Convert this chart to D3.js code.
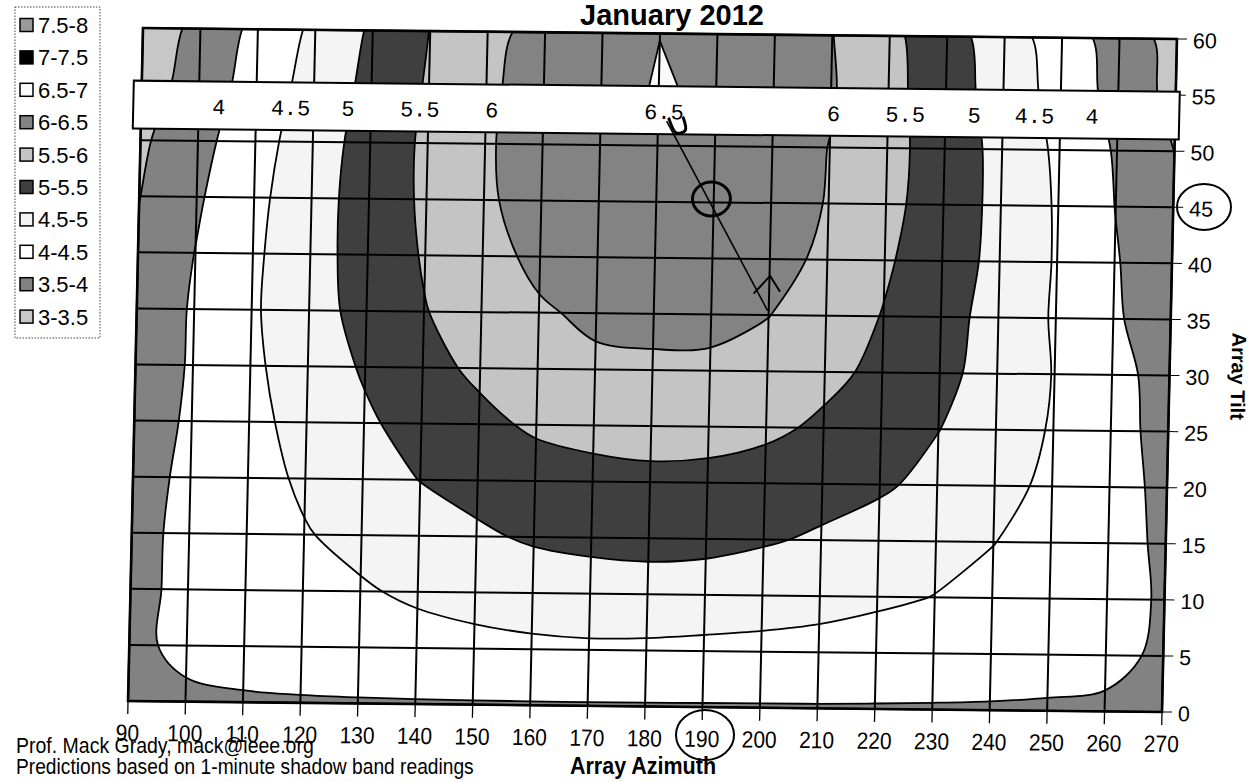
<!DOCTYPE html>
<html>
<head>
<meta charset="utf-8">
<script src="https://cdn.jsdelivr.net/npm/d3@7"></script>
<style>
  html, body { margin: 0; padding: 0; background: #fff; }
  svg { display: block; }
  text { font-family: "Liberation Sans", Arial, sans-serif; fill: #000; }
</style>
</head>
<body>
<svg id="chart" width="1251" height="782"></svg>
<script>
// Array azimuth (columns) and tilt (rows, top to bottom) of the sample grid
const azimuths = [90, 100, 110, 120, 130, 140, 150, 160, 170, 180, 190, 200, 210, 220, 230, 240, 250, 260, 270];
const tilts = [60, 55, 50, 45, 40, 35, 30, 25, 20, 15, 10, 5, 0];

// kWh/m2/day, one row per tilt
const tilt60 = [3.17, 3.65, 4.13, 4.60, 5.07, 5.51, 5.90, 6.13, 6.31, 6.495, 6.34, 6.17, 6.01, 5.61, 5.19, 4.73, 4.25, 3.78, 3.31];
const tilt55 = [3.26, 3.73, 4.21, 4.69, 5.13, 5.55, 5.94, 6.16, 6.35, 6.533, 6.44, 6.23, 6.04, 5.64, 5.23, 4.79, 4.32, 3.83, 3.35];
const tilt50 = [3.42, 3.85, 4.31, 4.77, 5.19, 5.59, 5.96, 6.17, 6.33, 6.44, 6.40, 6.22, 5.99, 5.65, 5.27, 4.86, 4.41, 3.95, 3.495];
const tilt45 = [3.49, 3.94, 4.38, 4.81, 5.21, 5.58, 5.95, 6.14, 6.30, 6.38, 6.36, 6.18, 5.98, 5.63, 5.26, 4.875, 4.45, 3.99, 3.55];
const tilt40 = [3.58, 4.01, 4.42, 4.82, 5.20, 5.54, 5.85, 6.10, 6.21, 6.28, 6.25, 6.12, 5.93, 5.56, 5.23, 4.87, 4.46, 4.04, 3.64];
const tilt35 = [3.66, 4.05, 4.44, 4.81, 5.16, 5.48, 5.71, 5.95, 6.08, 6.10, 6.10, 6.01, 5.75, 5.48, 5.17, 4.83, 4.45, 4.07, 3.70];
const tilt30 = [3.70, 4.05, 4.41, 4.75, 5.05, 5.34, 5.60, 5.78, 5.92, 5.94, 5.93, 5.80, 5.62, 5.39, 5.12, 4.82, 4.48, 4.15, 3.82];
const tilt25 = [3.76, 4.07, 4.37, 4.66, 4.93, 5.17, 5.37, 5.58, 5.66, 5.70, 5.68, 5.60, 5.42, 5.21, 5.01, 4.74, 4.46, 4.15, 3.86];
const tilt20 = [3.84, 4.09, 4.33, 4.57, 4.79, 5.01, 5.13, 5.25, 5.34, 5.38, 5.36, 5.27, 5.14, 5.07, 4.86, 4.64, 4.41, 4.16, 3.90];
const tilt15 = [3.89, 4.09, 4.28, 4.47, 4.63, 4.77, 4.94, 5.05, 5.10, 5.13, 5.11, 5.04, 4.95, 4.78, 4.65, 4.51, 4.33, 4.13, 3.94];
const tilt10 = [3.93, 4.06, 4.19, 4.32, 4.45, 4.58, 4.68, 4.76, 4.81, 4.82, 4.80, 4.74, 4.66, 4.58, 4.49, 4.37, 4.24, 4.10, 3.97];
const tilt5  = [3.96, 4.04, 4.11, 4.18, 4.25, 4.31, 4.36, 4.40, 4.42, 4.41, 4.38, 4.36, 4.34, 4.28, 4.22, 4.16, 4.10, 4.05, 3.97];
const tilt0  = [3.97, 3.97, 3.97, 3.97, 3.97, 3.97, 3.97, 3.97, 3.97, 3.97, 3.97, 3.97, 3.97, 3.97, 3.97, 3.97, 3.97, 3.97, 3.97];

// contour levels and legend entries (legend is listed top to bottom)
const levels = [3, 3.5, 4, 4.5, 5, 5.5, 6, 6.5, 7, 7.5];
const legendLabels = ['7.5-8', '7-7.5', '6.5-7', '6-6.5', '5.5-6', '5-5.5', '4.5-5', '4-4.5', '3.5-4', '3-3.5'];

// labels printed in the white strip, at the azimuth where each line crosses it
const stripLabels = ['4', '4.5', '5', '5.5', '6', '6.5', '6', '5.5', '5', '4.5', '4'];
const stripAzimuths = [103.5, 116, 126, 138.5, 151, 181, 210.5, 223, 235, 245.5, 255.5];

// hand-drawn pen marks on the scan (azimuth, tilt)
const penLine = [[181.5, 52.2], [199.8, 35.4]];
const penHook = [[181.9, 52.4], [183.1, 51.2], [184.8, 51.4], [184.4, 52.5]];
const penAngle = [[197.3, 36.9], [200.1, 38.5], [201.9, 37.1]];
const penCircle = [189.6, 45.3];

// fill for each band, same order as levels
const shades = ['#c7c7c7', '#828282', '#ffffff', '#f4f4f4', '#3f3f3f', '#c4c4c4', '#838383', '#fafafa', '#000000', '#9a9a9a'];

const W = 1035, H = 674;
const x = d3.scaleLinear().domain([90, 270]).range([0, W]);
const y = d3.scaleLinear().domain([0, 60]).range([H, 0]);

const svg = d3.select('#chart');
svg.append('rect').attr('width', 1251).attr('height', 782).attr('fill', '#fff');

svg.append('defs').append('clipPath').attr('id', 'plotClip')
    .append('rect').attr('width', W).attr('height', H);

// the scanned page is a little skewed, the plot frame follows it
const plot = svg.append('g')
    .attr('transform', 'matrix(0.999,0.01063,-0.0222,0.9985,143,28)');

// contour fills
const values = [tilt60, tilt55, tilt50, tilt45, tilt40, tilt35, tilt30, tilt25, tilt20, tilt15, tilt10, tilt5, tilt0].flat();
const contours = d3.contours()
    .size([azimuths.length, tilts.length])
    .thresholds(levels)(values);

const azStep = azimuths[1] - azimuths[0];
const tiltStep = tilts[0] - tilts[1];
// grid coords from d3.contours put sample i at i + 0.5
const toPlot = ([gx, gy]) => [
    x(azimuths[0] + (gx - 0.5) * azStep),
    y(tilts[0] - (gy - 0.5) * tiltStep)
];

// the original chart draws rounded contours, so smooth each ring
// (tiny rings, like the 6.5 peak, stay pointed)
const smoothRing = d3.line().curve(d3.curveCatmullRomClosed.alpha(0.5));
const sharpRing = d3.line().curve(d3.curveLinearClosed);
function contourPath(mp) {
    return mp.coordinates
        .map(polygon => polygon.map(ring => {
            const pts = ring.slice(0, -1).map(toPlot);
            return (pts.length > 6 ? smoothRing : sharpRing)(pts);
        }).join(''))
        .join('');
}

plot.append('g')
    .attr('clip-path', 'url(#plotClip)')
    .selectAll('path')
    .data(contours)
    .join('path')
    .attr('d', contourPath)
    .attr('fill-rule', 'evenodd')
    .attr('fill', d => shades[levels.indexOf(d.value)])
    .attr('stroke', '#000')
    .attr('stroke-width', 1.8)
    .attr('stroke-linejoin', 'round');

// grid
plot.append('g').selectAll('line')
    .data(azimuths)
    .join('line')
    .attr('x1', d => x(d)).attr('x2', d => x(d))
    .attr('y1', 0).attr('y2', H)
    .attr('stroke', '#000').attr('stroke-width', 2);

plot.append('g').selectAll('line')
    .data(tilts)
    .join('line')
    .attr('x1', 0).attr('x2', W)
    .attr('y1', d => y(d)).attr('y2', d => y(d))
    .attr('stroke', '#000').attr('stroke-width', 2);

plot.append('rect')
    .attr('width', W).attr('height', H)
    .attr('fill', 'none').attr('stroke', '#000').attr('stroke-width', 2.6);

// azimuth axis (bottom)
const xAxis = plot.append('g');
xAxis.selectAll('line')
    .data(azimuths)
    .join('line')
    .attr('x1', d => x(d)).attr('x2', d => x(d))
    .attr('y1', H).attr('y2', H + 13)
    .attr('stroke', '#000').attr('stroke-width', 1.3);
xAxis.selectAll('text')
    .data(azimuths)
    .join('text')
    .attr('transform', d => `translate(${x(d)},${H + 40}) scale(1,1.12)`)
    .attr('text-anchor', 'middle')
    .attr('font-size', 21)
    .text(d => d);

// tilt axis (right)
const yAxis = plot.append('g');
yAxis.selectAll('line')
    .data(tilts)
    .join('line')
    .attr('x1', W).attr('x2', W + 10)
    .attr('y1', d => y(d)).attr('y2', d => y(d))
    .attr('stroke', '#000').attr('stroke-width', 1);
yAxis.selectAll('text')
    .data(tilts)
    .join('text')
    .attr('x', W + 16)
    .attr('y', d => y(d) + 9)
    .attr('font-size', 21.5)
    .text(d => d);

plot.append('text')
    .attr('transform', `translate(${W + 62},${H / 2}) rotate(90)`)
    .attr('text-anchor', 'middle')
    .attr('font-size', 20)
    .attr('font-weight', 'bold')
    .text('Array Tilt');

// white label strip across the top
const stripTop = y(55.3), stripBottom = y(51.04);
plot.append('rect')
    .attr('x', -8).attr('y', stripTop)
    .attr('width', W + 12).attr('height', stripBottom - stripTop)
    .attr('fill', '#fff').attr('stroke', '#000').attr('stroke-width', 2);

plot.append('g').selectAll('text')
    .data(stripLabels)
    .join('text')
    .attr('x', (d, i) => x(stripAzimuths[i]))
    .attr('y', (stripTop + stripBottom) / 2 + 9)
    .attr('text-anchor', 'middle')
    .style('font-family', '"Liberation Mono", "Courier New", monospace')
    .attr('font-size', 22)
    .text(d => d);

// pen marks
const pen = d3.line().x(d => x(d[0])).y(d => y(d[1]));
plot.append('path').attr('d', pen(penLine))
    .attr('fill', 'none').attr('stroke', '#000').attr('stroke-width', 1.6);
plot.append('path').attr('d', pen.curve(d3.curveCardinal)(penHook))
    .attr('fill', 'none').attr('stroke', '#000').attr('stroke-width', 3).attr('stroke-linecap', 'round');
plot.append('path').attr('d', pen.curve(d3.curveLinear)(penAngle))
    .attr('fill', 'none').attr('stroke', '#000').attr('stroke-width', 2);
plot.append('ellipse')
    .attr('cx', x(penCircle[0])).attr('cy', y(penCircle[1]))
    .attr('rx', 19).attr('ry', 17)
    .attr('fill', 'none').attr('stroke', '#000').attr('stroke-width', 3);

// page level text
svg.append('text')
    .attr('x', 672).attr('y', 25)
    .attr('text-anchor', 'middle')
    .attr('font-size', 29)
    .attr('font-weight', 'bold')
    .text('January 2012');

svg.append('text')
    .attr('transform', 'translate(643,774) scale(1,1.08)')
    .attr('text-anchor', 'middle')
    .attr('font-size', 21.5)
    .attr('font-weight', 'bold')
    .text('Array Azimuth');

svg.append('text')
    .attr('transform', 'translate(16,753) scale(1,1.15)')
    .attr('font-size', 19.5)
    .text('Prof. Mack Grady, mack@ieee.org');

svg.append('text')
    .attr('transform', 'translate(16,774) scale(1,1.12)')
    .attr('font-size', 19.2)
    .text('Predictions based on 1-minute shadow band readings');

// pen circles round two axis labels
svg.append('ellipse')
    .attr('cx', 1204).attr('cy', 207).attr('rx', 27).attr('ry', 23)
    .attr('fill', 'none').attr('stroke', '#000').attr('stroke-width', 2);
svg.append('ellipse')
    .attr('cx', 705).attr('cy', 735).attr('rx', 29).attr('ry', 25)
    .attr('fill', 'none').attr('stroke', '#000').attr('stroke-width', 2);

// legend
const legend = svg.append('g');
legend.append('rect')
    .attr('x', 15).attr('y', 7).attr('width', 85).attr('height', 331)
    .attr('fill', '#fff').attr('stroke', '#444').attr('stroke-width', 1)
    .attr('stroke-dasharray', '1.5,1.5');

const item = legend.selectAll('g.item')
    .data(legendLabels)
    .join('g')
    .attr('class', 'item')
    .attr('transform', (d, i) => `translate(20,${25 + i * 32.4})`);

item.append('rect')
    .attr('x', 0).attr('y', -6.5).attr('width', 13).attr('height', 13)
    .attr('fill', (d, i) => shades[levels.length - 1 - i])
    .attr('stroke', '#000').attr('stroke-width', 1.5);

item.append('text')
    .attr('x', 18).attr('y', 8)
    .attr('font-size', 22)
    .text(d => d);
</script>
</body>
</html>
